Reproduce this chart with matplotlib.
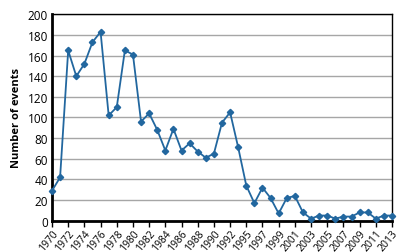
#!/usr/bin/env python3
'''
Number of events per year, 1970-2013 (1993 missing in the source series)
'''

import numpy as np
from matplotlib import pyplot as plt

YEARS = (list(range(1970, 1993)) + list(range(1994, 2014)))
EVENTS = [29, 42, 165, 140, 152, 173, 183, 102, 110, 165, 161, 96, 104,
          88, 68, 89, 68, 75, 67, 61, 65, 95, 105,
          71, 34, 17, 32, 22, 7, 22, 24, 8, 2, 5, 5, 2, 4, 4, 8, 8, 2, 5, 5]
TICK_LABELS = [str(y) for y in YEARS[::2]]

LINE_COLOR = '#22679f'

plt.rcParams['font.family'] = ['Open Sans', 'DejaVu Sans']

fig = plt.figure(figsize=(4.2, 2.53), dpi=100)
ax = fig.add_axes([52 / 420, 1 - 221.7 / 253, 340 / 420, 206.4 / 253])

x = np.arange(len(EVENTS))
ax.plot(x, EVENTS, color=LINE_COLOR, linewidth=1.3,
        marker='D', markersize=3.2, clip_on=False, zorder=3)

ax.set_xlim(0, len(EVENTS) - 1)
ax.set_ylim(0, 200)
ax.set_yticks(range(0, 201, 20))
ax.yaxis.grid(True, color='#a6a6a6', linewidth=1)
ax.set_axisbelow(True)

ax.set_xticks(x[::2])
ax.set_xticklabels(TICK_LABELS, rotation=50, ha='right',
                   rotation_mode='anchor', fontsize=7.5)
ax.tick_params(axis='x', length=4, width=1, direction='out', pad=1)
ax.tick_params(axis='y', length=0, labelsize=8.5, pad=3)

for side in ('left', 'bottom'):
    ax.spines[side].set_linewidth(2)
for side in ('top', 'right'):
    ax.spines[side].set_linewidth(1)

ax.set_ylabel('Number of events', fontsize=8, fontweight='bold', labelpad=4)

fig.savefig('out.png', dpi=100)
